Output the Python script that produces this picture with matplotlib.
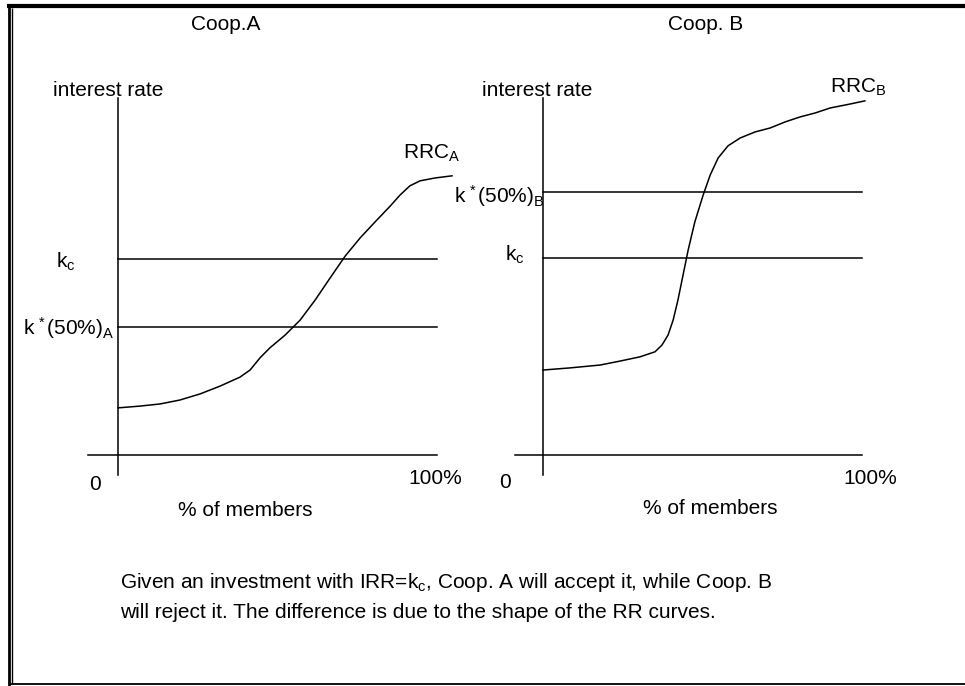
import matplotlib
matplotlib.use("Agg")
import matplotlib.pyplot as plt

plt.rcParams['font.family'] = ['Liberation Sans', 'DejaVu Sans']
plt.rcParams['mathtext.fontset'] = 'custom'
plt.rcParams['mathtext.rm'] = 'Liberation Sans'
plt.rcParams['mathtext.it'] = 'Liberation Sans'
plt.rcParams['mathtext.default'] = 'rm'

# ---- data (x: % of members, y: interest rate, arbitrary units 0-100) ----
members_a = [0, 6.9, 13.2, 19.4, 25.7, 32.0, 38.2, 41.4, 44.5, 47.6, 52.4, 57.1,
             61.8, 66.5, 71.2, 75.9, 80.6, 85.3, 88.4, 91.5, 94.7, 99.4, 104.7]
rrc_a = [13.2, 13.7, 14.3, 15.4, 17.1, 19.3, 21.8, 23.8, 27.2, 30.0, 33.6, 37.8,
         43.4, 49.6, 55.7, 60.8, 65.3, 69.7, 72.8, 75.4, 76.8, 77.6, 78.2]
kc_a = 54.9
kstar_a = 35.9

members_b = [0, 8.5, 17.9, 24.1, 30.4, 35.1, 37.3, 39.2, 40.8, 42.3, 43.9, 45.5,
             47.6, 50.2, 52.4, 54.9, 58.0, 61.8, 66.5, 71.2, 75.9, 80.6, 85.3,
             90.0, 96.2, 100.9]
rrc_b = [23.8, 24.4, 25.2, 26.3, 27.5, 28.9, 30.8, 33.6, 37.8, 43.4, 50.4, 57.4,
         65.3, 72.8, 78.4, 83.2, 86.6, 88.8, 90.5, 91.6, 93.3, 94.7, 95.8, 97.2,
         98.3, 99.2]
kc_b = 55.2
kstar_b = 73.7

W, H = 965, 686
fig = plt.figure(figsize=(W / 100, H / 100), dpi=100)

# background axes in pixel coordinates for frame and labels
bg = fig.add_axes([0, 0, 1, 1])
bg.set_xlim(0, W)
bg.set_ylim(H, 0)
bg.axis('off')

# frame
bg.plot([7, W], [6, 6], color='black', lw=3.0, solid_capstyle='butt')
bg.plot([8.5, 8.5], [4, H], color='black', lw=2.0, solid_capstyle='butt')
bg.plot([11.7, 11.7], [8, 684], color='black', lw=1.0, solid_capstyle='butt')
bg.plot([11, W], [684.3, 684.3], color='black', lw=1.3, solid_capstyle='butt')

FS = 15
LW = 1.1


def panel(px0, px100, py0, py100):
    ax = fig.add_axes([px0 / W, 1 - py0 / H, (px100 - px0) / W, (py0 - py100) / H])
    ax.set_xlim(0, 100)
    ax.set_ylim(0, 100)
    ax.axis('off')
    return ax


def draw_panel(ax, xs, ys, kc, kstar, xstart):
    ax.plot([0, 0], [-5.6, 100], color='black', lw=LW, clip_on=False)
    ax.plot([xstart, 100], [0, 0], color='black', lw=LW, clip_on=False)
    ax.plot([0, 100], [kc, kc], color='black', lw=LW, clip_on=False)
    ax.plot([0, 100], [kstar, kstar], color='black', lw=LW, clip_on=False)
    ax.plot(xs, ys, color='black', lw=LW, clip_on=False)


axA = panel(118, 437, 455, 98)
draw_panel(axA, members_a, rrc_a, kc_a, kstar_a, -9.4)
axB = panel(543, 862, 455, 98)
draw_panel(axB, members_b, rrc_b, kc_b, kstar_b, -8.8)

# texts (pixel positions)
def t(x, y, s, ha='center', size=FS):
    bg.text(x, y, s, ha=ha, va='center', fontsize=size)

t(226, 25, 'Coop.A')
t(706, 25, 'Coop. B')
t(53, 90, 'interest rate', ha='left')
t(482, 90, 'interest rate', ha='left')
t(432, 153, r'$\mathrm{RRC_{A}}$')
t(858, 87, r'$\mathrm{RRC_{B}}$')
t(66, 262, r'$\mathrm{k_{c}}$')
t(515, 255, r'$\mathrm{k_{c}}$')
t(114, 328, r'$\mathrm{k^{\,*}(50\%)_{A}}$', ha='right')
t(545, 196, r'$\mathrm{k^{\,*}(50\%)_{B}}$', ha='right')
t(95, 485, '0')
t(505, 482, '0')
t(435, 478, '100%')
t(870, 478, '100%')
t(245, 510, '% of members')
t(710, 508, '% of members')
t(120, 583, r'Given an investment with IRR=k$_{\mathrm{c}}$, Coop. A will accept it, while Coop. B', ha='left')
t(120, 613, 'will reject it. The difference is due to the shape of the RR curves.', ha='left')

fig.savefig('out.png', dpi=100)
